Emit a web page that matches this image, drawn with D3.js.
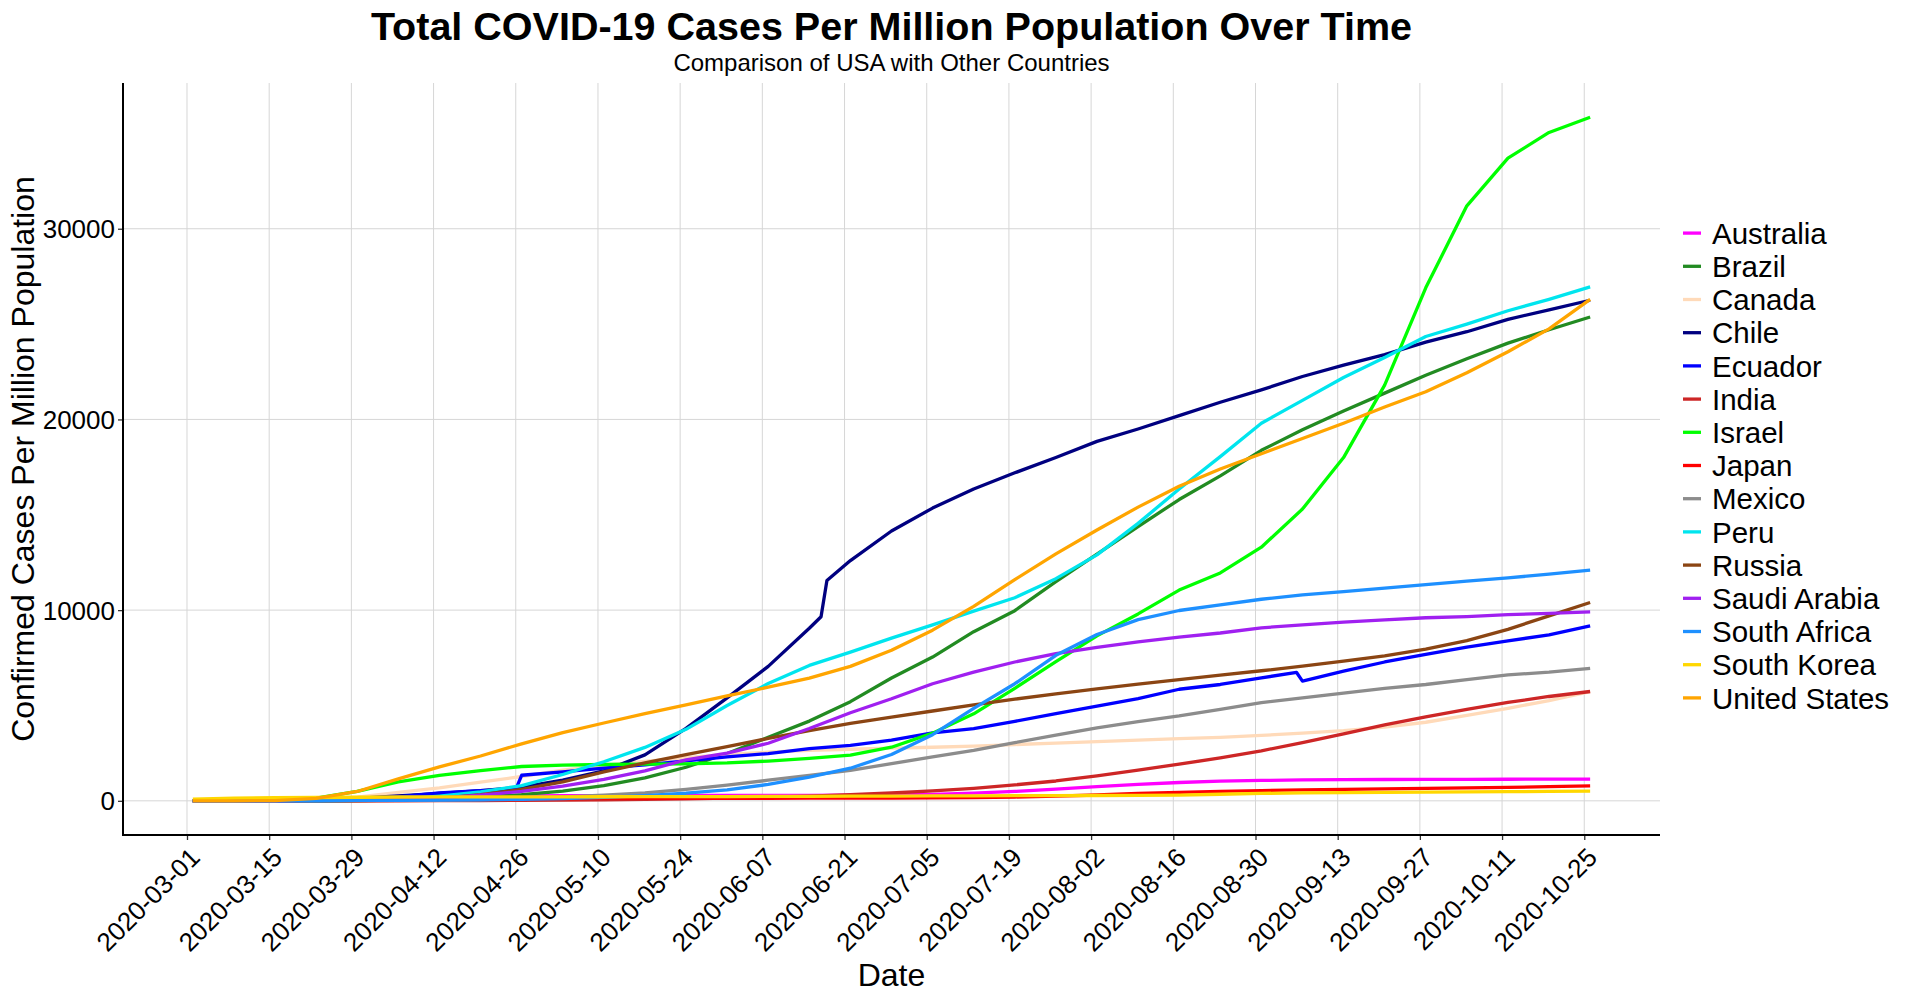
<!DOCTYPE html>
<html>
<head>
<meta charset="utf-8">
<script src="https://cdn.jsdelivr.net/npm/d3@7"></script>
<style>
  html, body { margin: 0; padding: 0; background: #ffffff; }
  svg { display: block; }
  text { font-family: "Liberation Sans", Arial, sans-serif; fill: #000; }
</style>
</head>
<body>
<svg id="chart" width="1911" height="996"></svg>
<script>
// ---------------- DATA ----------------
const weeks = ["2020-03-02","2020-03-09","2020-03-16","2020-03-23","2020-03-30",
  "2020-04-06","2020-04-13","2020-04-20","2020-04-27",
  "2020-05-04","2020-05-11","2020-05-18","2020-05-25",
  "2020-06-01","2020-06-08","2020-06-15","2020-06-22","2020-06-29",
  "2020-07-06","2020-07-13","2020-07-20","2020-07-27",
  "2020-08-03","2020-08-10","2020-08-17","2020-08-24","2020-08-31",
  "2020-09-07","2020-09-14","2020-09-21","2020-09-28",
  "2020-10-05","2020-10-12","2020-10-19","2020-10-26"];

const countries = ["Australia","Brazil","Canada","Chile","Ecuador","India","Israel","Japan",
  "Mexico","Peru","Russia","Saudi Arabia","South Africa","South Korea","United States"];

const colors = ["#FF00FF","#228B22","#FFDAB9","#000080","#0000FF","#CD2626","#00FF00","#FF0000",
  "#8C8C8C","#00E5EE","#8B4513","#A020F0","#1E90FF","#FFD700","#FFA500"];

const australia = [0,3,15,67,166, 227,249,260,264, 268,272,277,280, 283,285,288,294,307, 340,400,490,610, 740,860,960,1030,1070, 1095,1110,1118,1123, 1127,1132,1136,1140];
const brazil    = [0,0,1,9,22, 57,110,190,320, 511,800,1200,1760, 2480,3330,4180,5200,6440, 7540,8870,9970,11490, 12940,14380,15800,17040,18380, 19460,20440,21380,22320, 23180,24000,24700,25370];
const canada    = [0,1,11,55,196, 440,680,980,1275, 1605,1860,2070,2260, 2430,2550,2640,2705,2760, 2810,2870,2950,3030, 3100,3180,3260,3330,3430, 3550,3680,3860,4120, 4480,4850,5260,5730];
const chile     = [0,1,4,33,128, 252,394,528,720, 1080,1570,2410,3800, 5400,7050,9050,12600,14150, 15350,16350,17200,18000, 18850,19500,20200,20900,21550, 22250,22850,23400,24050, 24600,25250,25750,26250];
const ecuador   = [0,1,2,56,111, 207,420,530,1340, 1520,1720,1880,2100, 2300,2480,2740,2910,3180, 3560,3790,4170,4570, 4970,5360,5850,6100,6450, 6280,6800,7280,7680, 8060,8390,8700,9170];
const india     = [0,0,0,0,1, 3,7,13,21, 34,51,73,105, 144,193,249,319,411, 521,657,837,1040, 1307,1605,1919,2251,2624, 3047,3512,3977,4402, 4800,5160,5471,5732];
const israel    = [1,4,29,140,500, 990,1340,1580,1800, 1870,1905,1925,1940, 1985,2085,2225,2400,2810, 3550,4560,5900,7300, 8650,9800,11050,11950,13300, 15300,18000,21800,26900, 31200,33700,35050,35850];
const japan     = [2,4,6,9,15, 29,57,85,106, 119,125,129,131, 134,136,138,141,147, 154,173,198,245, 305,387,440,499,536, 571,598,628,649, 675,700,740,780];
const mexico    = [0,0,0,3,8, 19,40,70,120, 200,300,420,600, 820,1080,1330,1600,1950, 2300,2650,3050,3450, 3830,4150,4450,4800,5150, 5400,5650,5900,6100, 6350,6600,6750,6950];
const peru      = [0,0,2,12,26, 71,250,470,800, 1380,2050,2800,3750, 5000,6150,7100,7800,8530, 9230,9950,10650,11650, 12900,14550,16350,18050,19800, 21000,22200,23250,24350, 25000,25700,26300,26950];
const russia    = [0,0,0,3,13, 43,126,323,597, 996,1517,1990,2420, 2840,3270,3680,4060,4390, 4710,5030,5330,5610, 5870,6120,6360,6590,6820, 7060,7320,7600,7950, 8400,8990,9700,10400];
const saudi     = [0,0,3,22,42, 79,142,300,500, 776,1120,1570,2150, 2500,3020,3790,4620,5350, 6140,6750,7280,7720, 8050,8330,8580,8800,9070, 9230,9370,9490,9600, 9660,9760,9830,9910];
const southAfrica = [0,0,1,4,22, 26,36,55,80, 114,180,277,398, 579,858,1240,1710,2430, 3470,4850,6140,7630, 8720,9500,9980,10280,10570, 10800,10970,11150,11340, 11520,11690,11890,12100];
const southKorea  = [82,144,161,175,188, 200,205,208,210, 211,213,216,218, 224,230,236,242,249, 256,263,268,276, 280,286,302,344,389, 418,434,448,460, 471,481,493,506];
const unitedStates = [0,2,14,130,490, 1150,1780,2350,2990, 3580,4080,4570,5030, 5500,5960,6430,7050,7900, 8950,10200,11600,12950, 14200,15400,16500,17400,18200, 19000,19800,20650,21450, 22450,23550,24750,26300];

const seriesValues = [australia, brazil, canada, chile, ecuador, india, israel, japan,
  mexico, peru, russia, saudi, southAfrica, southKorea, unitedStates];

// extra daily readings around sharp jumps
const extraPoints = [
  {country: "Ecuador", date: "2020-04-26", value: 600},
  {country: "Chile",   date: "2020-06-17", value: 9650},
  {country: "Chile",   date: "2020-06-18", value: 11550},
  {country: "Ecuador", date: "2020-09-06", value: 6730}
];

const yTicks = [0, 10000, 20000, 30000];
const xTickLabels = ["2020-03-01","2020-03-15","2020-03-29","2020-04-12","2020-04-26","2020-05-10",
  "2020-05-24","2020-06-07","2020-06-21","2020-07-05","2020-07-19","2020-08-02","2020-08-16",
  "2020-08-30","2020-09-13","2020-09-27","2020-10-11","2020-10-25"];

const titleText = "Total COVID-19 Cases Per Million Population Over Time";
const subtitleText = "Comparison of USA with Other Countries";
const xTitle = "Date";
const yTitle = "Confirmed Cases Per Million Population";

// ---------------- LAYOUT ----------------
const W = 1911, H = 996;
const panel = {left: 123, right: 1660, top: 83, bottom: 835};

const parse = d3.utcParse("%Y-%m-%d");
const fmt = d3.utcFormat("%Y-%m-%d");

const series = countries.map((name, i) => {
  const pts = weeks.map((w, j) => ({date: parse(w), value: seriesValues[i][j]}));
  extraPoints.filter(e => e.country === name)
    .forEach(e => pts.push({date: parse(e.date), value: e.value}));
  pts.sort((a, b) => a.date - b.date);
  return {name, color: colors[i], pts};
});

const allPts = series.flatMap(s => s.pts);
const xExt = d3.extent(allPts, d => d.date);
const xPad = (xExt[1] - xExt[0]) * 0.05;
const yExt = d3.extent(allPts, d => d.value);
const yPad = (yExt[1] - yExt[0]) * 0.05;

const x = d3.scaleUtc()
  .domain([new Date(+xExt[0] - xPad), new Date(+xExt[1] + xPad)])
  .range([panel.left, panel.right]);
const y = d3.scaleLinear()
  .domain([yExt[0] - yPad, yExt[1] + yPad])
  .range([panel.bottom, panel.top]);

const svg = d3.select("#chart");
svg.append("rect").attr("width", W).attr("height", H).attr("fill", "#ffffff");

const xTickDates = xTickLabels.map(parse);

// grid
const grid = svg.append("g").attr("class", "grid");
grid.selectAll("line.v").data(xTickDates).join("line")
  .attr("class", "v")
  .attr("x1", d => x(d)).attr("x2", d => x(d))
  .attr("y1", panel.top).attr("y2", panel.bottom)
  .attr("stroke", "#D6D6D6").attr("stroke-width", 1);
grid.selectAll("line.h").data(yTicks).join("line")
  .attr("class", "h")
  .attr("x1", panel.left).attr("x2", panel.right)
  .attr("y1", d => y(d)).attr("y2", d => y(d))
  .attr("stroke", "#D6D6D6").attr("stroke-width", 1);

// lines
const line = d3.line()
  .x(d => x(d.date))
  .y(d => y(d.value));

svg.append("g").attr("class", "series")
  .selectAll("path").data(series).join("path")
  .attr("d", d => line(d.pts))
  .attr("fill", "none")
  .attr("stroke", d => d.color)
  .attr("stroke-width", 3.3)
  .attr("stroke-linejoin", "round")
  .attr("stroke-linecap", "butt");

// axes
const xAxis = d3.axisBottom(x).tickValues(xTickDates).tickFormat(fmt).tickSize(5).tickSizeOuter(0);
const gx = svg.append("g").attr("transform", `translate(0,${panel.bottom})`).call(xAxis);
gx.select(".domain").remove();
gx.selectAll(".tick line").attr("stroke", "#333").attr("stroke-width", 1.3);
gx.selectAll(".tick text")
  .attr("font-size", 26)
  .attr("font-family", "Liberation Sans, Arial, sans-serif")
  .attr("fill", "#000")
  .attr("text-anchor", "end")
  .attr("y", 0).attr("dy", 0)
  .attr("transform", "translate(14,24) rotate(-45)");

const yAxis = d3.axisLeft(y).tickValues(yTicks).tickFormat(d3.format("d")).tickSize(5).tickSizeOuter(0);
const gy = svg.append("g").attr("transform", `translate(${panel.left},0)`).call(yAxis);
gy.select(".domain").remove();
gy.selectAll(".tick line").attr("stroke", "#333").attr("stroke-width", 1.3);
gy.selectAll(".tick text")
  .attr("font-size", 26)
  .attr("font-family", "Liberation Sans, Arial, sans-serif")
  .attr("fill", "#000")
  .attr("x", -8).attr("dy", "0.35em");

// axis lines
svg.append("line").attr("x1", panel.left).attr("x2", panel.left)
  .attr("y1", panel.top).attr("y2", panel.bottom + 1)
  .attr("stroke", "#000").attr("stroke-width", 2);
svg.append("line").attr("x1", panel.left - 1).attr("x2", panel.right)
  .attr("y1", panel.bottom).attr("y2", panel.bottom)
  .attr("stroke", "#000").attr("stroke-width", 2);

// titles
const cx = (panel.left + panel.right) / 2;
svg.append("text").attr("x", cx).attr("y", 40).attr("text-anchor", "middle")
  .attr("font-size", 39.5).attr("font-weight", "bold").text(titleText);
svg.append("text").attr("x", cx).attr("y", 71).attr("text-anchor", "middle")
  .attr("font-size", 24).text(subtitleText);
svg.append("text").attr("x", cx).attr("y", 986).attr("text-anchor", "middle")
  .attr("font-size", 32).text(xTitle);
svg.append("text")
  .attr("transform", `translate(34,${(panel.top + panel.bottom) / 2}) rotate(-90)`)
  .attr("text-anchor", "middle").attr("font-size", 32).text(yTitle);

// legend
const rowGap = 33.2;
const legendTop = 465.5 - rowGap * (series.length - 1) / 2;
const legend = svg.append("g").attr("transform", `translate(1683,${legendTop})`);
const rows = legend.selectAll("g").data(series).join("g")
  .attr("transform", (d, i) => `translate(0,${i * rowGap})`);
rows.append("line").attr("x1", 0).attr("x2", 18).attr("y1", 0).attr("y2", 0)
  .attr("stroke", d => d.color).attr("stroke-width", 3.3);
rows.append("text").attr("x", 29).attr("y", 0).attr("dy", "0.36em")
  .attr("font-size", 29.5).text(d => d.name);
</script>
</body>
</html>
